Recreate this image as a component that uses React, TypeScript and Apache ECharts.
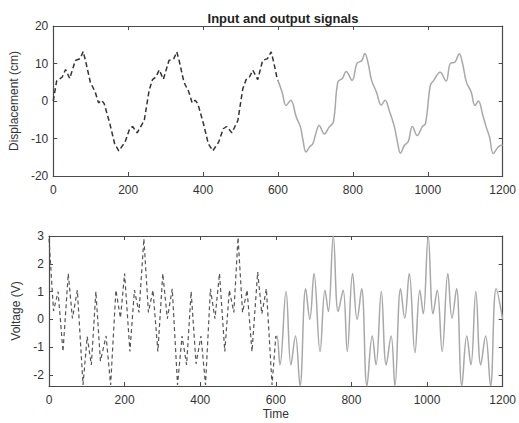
import React, { useEffect, useRef } from "react";
import * as echarts from "echarts";

// X axis ticks
const xTicks = [0, 200, 400, 600, 800, 1000, 1200];

// Top: displacement input (dashed, 0-600)
const topInX = [0, 9, 24, 33, 44, 59, 72, 80, 87, 99, 112, 121, 129, 136, 151, 164, 175, 192, 204, 212, 224, 243,
  256, 265, 274, 283, 294, 309, 322, 330, 337, 349, 362, 371, 379, 386, 401, 414, 426, 442, 454, 463, 477, 493,
  506, 515, 524, 533, 546, 559, 572, 582, 589, 597, 600];
const topInY = [0, 5.3, 6.4, 8.4, 6.0, 10.8, 11.3, 13.2, 10.4, 5.0, 2.4, -0.5, 0.2, -0.7, -6.0, -11.4, -13.3, -10.9, -7.4, -6.8, -8.5, -5.2,
  2.8, 5.7, 6.4, 8.3, 5.8, 10.8, 11.3, 13.1, 10.4, 5.0, 2.4, -0.5, 0.2, -0.7, -6.0, -11.4, -13.3, -10.9, -7.4, -6.8, -8.5, -5.2,
  3.2, 5.7, 6.4, 8.2, 5.7, 10.8, 11.3, 13.1, 10.2, 6.4, 5.5];

// Top: displacement output (solid, 600-1200)
const topOutX = [600, 611, 622, 634, 649, 660, 666, 675, 684, 693, 701, 710, 724, 737, 748, 760, 772, 782, 798, 811, 824, 832, 841, 850, 863,
  876, 886, 897, 911, 920, 927, 938, 948, 959, 972, 985, 994, 1007, 1016, 1033, 1049, 1060, 1073, 1084, 1093, 1103, 1116,
  1126, 1135, 1147, 1156, 1165, 1175, 1187, 1196, 1200];
const topOutY = [5.5, 2.4, -1.2, 0.2, -4.3, -6.9, -10.0, -13.6, -12.3, -11.4, -8.7, -6.5, -8.8, -6.9, -5.6, 5.1, 6.0, 7.9, 5.5, 10.0, 10.8, 12.7, 10.0, 5.5, 2.4,
  -1.1, 0.2, -2.5, -6.9, -11.4, -13.9, -11.8, -10.8, -6.8, -9.2, -6.9, -6.0, 4.2, 5.5, 7.7, 5.3, 10.0, 10.4, 12.6, 10.0, 5.1, 2.4,
  -1.2, 0.0, -3.8, -6.9, -9.6, -14.0, -12.4, -11.8, -11.8];

// Bottom: voltage input (dashed, 0-600)
const botInX = [0, 12, 24, 37, 51, 62, 75, 90, 101, 112, 124, 136, 151, 163, 177, 189, 200, 214, 226, 238,
  251, 263, 275, 288, 301, 313, 326, 340, 352, 364, 376, 389, 402, 414, 427, 439, 451, 465, 477, 489,
  500, 512, 524, 537, 552, 563, 575, 590, 600];
const botInY = [2.9, 0.3, 1.0, -1.16, 1.65, 0.03, 1.05, -2.36, -0.62, -1.64, 1.0, -1.5, -0.6, -2.36, 1.05, 0.05, 1.65, -1.16, 1.05, 0.25,
  2.9, 0.25, 1.05, -1.16, 1.65, 0.02, 1.1, -2.36, -0.6, -1.64, 1.0, -1.6, -0.6, -2.36, 1.1, 0.02, 1.65, -1.16, 1.05, 0.25,
  2.95, 0.25, 1.05, -1.16, 1.7, 0.2, 1.1, -2.36, -0.6];

// Bottom: voltage output (solid, 600-1200)
const botOutX = [600, 603, 611, 627, 640, 652, 664, 679, 690, 701, 717, 730, 739, 752, 765, 778, 789, 803, 815, 827,
  841, 855, 865, 879, 892, 905, 915, 930, 941, 953, 968, 981, 990, 1003, 1016, 1027, 1040, 1055, 1066, 1078,
  1092, 1105, 1116, 1129, 1142, 1155, 1168, 1183, 1200];
const botOutY = [-0.7, -0.6, -1.64, 1.0, -1.64, -0.6, -2.4, 1.1, 0.0, 1.65, -1.16, 1.05, 0.28, 3.0, 0.28, 1.05, -1.16, 1.65, 0.0, 1.1,
  -2.4, -0.6, -1.64, 1.0, -1.64, -0.6, -2.4, 1.1, 0.04, 1.65, -1.2, 1.05, 0.2, 3.0, 0.2, 1.05, -1.16, 1.65, 0.04, 1.1,
  -2.4, -0.6, -1.64, 1.0, -1.64, -0.6, -2.4, 1.1, 0.0];

const pairs = (xs: number[], ys: number[]) => xs.map((x, i) => [x, ys[i]]);

const FONT = "'Liberation Sans', Arial, sans-serif";
const AXIS_COLOR = "#4a4a4a";
const LABEL_COLOR = "#333";

export default function App() {
  const ref = useRef<HTMLDivElement>(null);
  useEffect(() => {
    if (!ref.current) return;
    const chart = echarts.init(ref.current, undefined, { renderer: "svg" });
    const lineStyleAxis = { show: true, onZero: false, lineStyle: { color: AXIS_COLOR, width: 1.2 } };
    const tick = { show: true, inside: true, length: 4, lineStyle: { color: AXIS_COLOR } };
    const lbl = { color: LABEL_COLOR, fontSize: 12, fontFamily: FONT };
    const xBase = {
      type: "value" as const,
      min: xTicks[0],
      max: xTicks[xTicks.length - 1],
      interval: 200,
      splitLine: { show: false },
      axisLine: lineStyleAxis,
      axisTick: tick,
    };
    const xLbl = { ...lbl, margin: 8, formatter: (v: number) => String(v) };
    const option: any = {
      animation: false,
      backgroundColor: "#fff",
      title: {
        text: "Input and output signals",
        left: 278,
        textAlign: "center",
        top: 7,
        textStyle: { fontSize: 13, fontWeight: "bold", color: "#222", fontFamily: FONT },
      },
      grid: [
        { left: 49, top: 26, width: 458, height: 150 },
        { left: 49, top: 236, width: 458, height: 150 },
      ],
      xAxis: [
        { ...xBase, gridIndex: 0, position: "bottom", axisLabel: xLbl },
        { ...xBase, gridIndex: 0, position: "top", axisLabel: { show: false } },
        {
          ...xBase, gridIndex: 1, position: "bottom", axisLabel: xLbl,
          name: "Time", nameLocation: "middle", nameGap: 22,
          nameTextStyle: { color: LABEL_COLOR, fontSize: 12, fontFamily: FONT },
        },
        { ...xBase, gridIndex: 1, position: "top", axisLabel: { show: false } },
      ],
      yAxis: [
        {
          type: "value", gridIndex: 0, position: "left", min: -20, max: 20, interval: 10,
          splitLine: { show: false }, axisLine: lineStyleAxis, axisTick: tick,
          axisLabel: { ...lbl, margin: 5 },
          name: "Displacement (cm)", nameLocation: "middle", nameGap: 27,
          nameTextStyle: { color: LABEL_COLOR, fontSize: 12, fontFamily: FONT },
        },
        {
          type: "value", gridIndex: 0, position: "right", min: -20, max: 20, interval: 10,
          splitLine: { show: false }, axisLine: lineStyleAxis, axisTick: tick, axisLabel: { show: false },
        },
        {
          type: "value", gridIndex: 1, position: "left", min: -2.4, max: 3, splitNumber: 5,
          splitLine: { show: false }, axisLine: lineStyleAxis, axisTick: tick,
          axisLabel: {
            ...lbl, margin: 5,
            formatter: (v: number) => (Math.abs(v - Math.round(v)) < 1e-6 ? String(Math.round(v)) : ""),
          },
          name: "Voltage (V)", nameLocation: "middle", nameGap: 21,
          nameTextStyle: { color: LABEL_COLOR, fontSize: 12, fontFamily: FONT },
        },
        {
          type: "value", gridIndex: 1, position: "right", min: -2.4, max: 3, splitNumber: 5,
          splitLine: { show: false }, axisLine: lineStyleAxis, axisTick: tick, axisLabel: { show: false },
        },
      ],
      series: [
        {
          type: "line", xAxisIndex: 0, yAxisIndex: 0, data: pairs(topInX, topInY), showSymbol: false,
          lineStyle: { color: "#333", width: 1.5, type: [5, 3] }, z: 3,
        },
        {
          type: "line", xAxisIndex: 0, yAxisIndex: 0, data: pairs(topOutX, topOutY), showSymbol: false, smooth: 0.4,
          lineStyle: { color: "#a8a8a8", width: 1.5 }, z: 2,
        },
        {
          type: "line", xAxisIndex: 2, yAxisIndex: 2, data: pairs(botInX, botInY), showSymbol: false,
          lineStyle: { color: "#555", width: 1.2, type: [4, 3] }, z: 3,
        },
        {
          type: "line", xAxisIndex: 2, yAxisIndex: 2, data: pairs(botOutX, botOutY), showSymbol: false, smooth: 0.4,
          lineStyle: { color: "#a8a8a8", width: 1.5 }, z: 2,
        },
      ],
    };
    chart.setOption(option);
    return () => chart.dispose();
  }, []);
  return (
    <div
      ref={ref}
      style={{ position: "fixed", left: 0, top: 0, width: 519, height: 423, background: "#fff" }}
    />
  );
}
